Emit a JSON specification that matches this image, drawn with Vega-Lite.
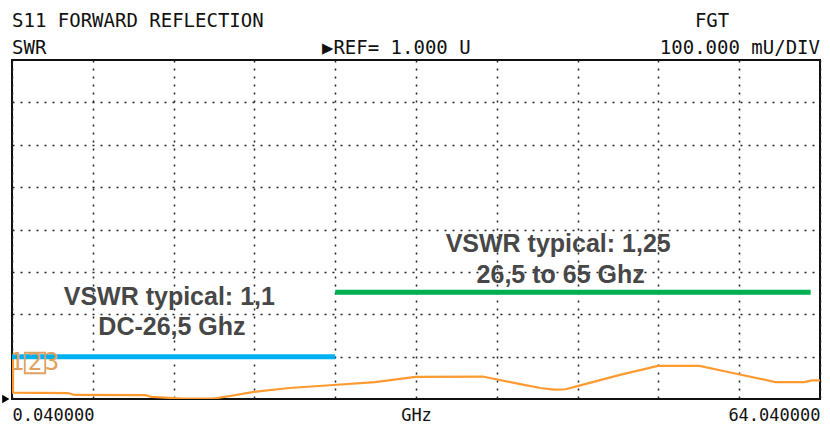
{
  "$schema": "https://vega.github.io/schema/vega-lite/v6.json",
  "width": 808,
  "height": 339,
  "autosize": {"type": "none"},
  "padding": {"left": 12, "top": 60, "right": 10, "bottom": 27},
  "background": "white",
  "config": {"view": {"stroke": "#111", "strokeWidth": 2}},
  "datasets": {
    "trace": [
      {"i": 0, "f": 0.12, "v": 1.104},
      {"i": 1, "f": 0.12, "v": 1.015},
      {"i": 2, "f": 4.48, "v": 1.014},
      {"i": 3, "f": 5.0, "v": 1.0095},
      {"i": 4, "f": 10.6, "v": 1.009},
      {"i": 5, "f": 11.1, "v": 1.005},
      {"i": 6, "f": 13.5, "v": 1.001},
      {"i": 7, "f": 16.0, "v": 1.001},
      {"i": 8, "f": 17.3, "v": 1.007},
      {"i": 9, "f": 19.2, "v": 1.017},
      {"i": 10, "f": 22.0, "v": 1.026},
      {"i": 11, "f": 25.5, "v": 1.033},
      {"i": 12, "f": 28.8, "v": 1.04},
      {"i": 13, "f": 32.0, "v": 1.052},
      {"i": 14, "f": 37.3, "v": 1.053},
      {"i": 15, "f": 38.5, "v": 1.046},
      {"i": 16, "f": 40.3, "v": 1.035},
      {"i": 17, "f": 41.9, "v": 1.026},
      {"i": 18, "f": 43.0, "v": 1.022},
      {"i": 19, "f": 43.9, "v": 1.023},
      {"i": 20, "f": 44.9, "v": 1.031},
      {"i": 21, "f": 48.2, "v": 1.057},
      {"i": 22, "f": 51.2, "v": 1.078},
      {"i": 23, "f": 54.5, "v": 1.078},
      {"i": 24, "f": 57.5, "v": 1.059},
      {"i": 25, "f": 60.5, "v": 1.04},
      {"i": 26, "f": 62.8, "v": 1.04},
      {"i": 27, "f": 63.4, "v": 1.044},
      {"i": 28, "f": 64.04, "v": 1.044}
    ],
    "specs": [
      {"band": "DC-26,5 GHz", "f": 0.04, "f2": 25.64, "v": 1.1},
      {"band": "26,5-65 GHz", "f": 25.64, "f2": 63.3, "v": 1.252}
    ],
    "notes": [
      {"f": 12.5, "v": 1.2217, "text": "VSWR typical: 1,1"},
      {"f": 12.71, "v": 1.151, "text": "DC-26,5 Ghz"},
      {"f": 43.3, "v": 1.3467, "text": "VSWR typical: 1,25"},
      {"f": 43.5, "v": 1.2736, "text": "26,5 to 65 Ghz"}
    ],
    "headLeft": [
      {"f": 0.04, "v": 1.8774, "text": "S11 FORWARD REFLECTION"},
      {"f": 0.04, "v": 1.8137, "text": "SWR"},
      {"f": 24.59, "v": 1.8137, "text": "▶REF= 1.000 U"},
      {"f": 54.13, "v": 1.8774, "text": "FGT"}
    ],
    "headRight": [
      {"f": 64.04, "v": 1.8137, "text": "100.000 mU/DIV"}
    ],
    "marker": [
      {"f": 0.43, "v": 1.085, "text": "1"},
      {"f": 1.86, "v": 1.085, "text": "2"},
      {"f": 3.21, "v": 1.085, "text": "3"}
    ],
    "box": [{"f": 1.86, "v": 1.085}],
    "ref": [{"f": -0.45, "v": 1.0}]
  },
  "layer": [
    {
      "data": {"name": "trace"},
      "mark": {"type": "line", "color": "#ff9a30", "strokeWidth": 2.2, "clip": true},
      "encoding": {
        "x": {
          "field": "f", "type": "quantitative",
          "scale": {"domain": [0.04, 64.04], "nice": false, "zero": false},
          "axis": {
            "title": null,
            "values": [0.04, 6.44, 12.84, 19.24, 25.64, 32.04, 38.44, 44.84, 51.24, 57.64, 64.04],
            "grid": true, "gridColor": "#222", "gridDash": [2, 6], "gridWidth": 1.5,
            "domain": false, "ticks": false,
            "labelExpr": "datum.value == 0.04 ? '0.040000' : (datum.value == 64.04 ? '64.040000' : (datum.value == 32.04 ? 'GHz' : ''))",
            "labelFlush": true, "labelOverlap": false,
            "labelFont": "DejaVu Sans Mono", "labelFontSize": 17, "labelColor": "#111",
            "labelPadding": 8, "labelBaseline": "top"
          }
        },
        "y": {
          "field": "v", "type": "quantitative",
          "scale": {"domain": [1, 1.8], "nice": false, "zero": false},
          "axis": {
            "title": null,
            "values": [1.1, 1.2, 1.3, 1.4, 1.5, 1.6, 1.7],
            "grid": true, "gridColor": "#222", "gridDash": [2, 6], "gridWidth": 1.5,
            "domain": false, "ticks": false, "labels": false
          }
        },
        "order": {"field": "i", "type": "quantitative"}
      }
    },
    {
      "data": {"name": "specs"},
      "mark": {"type": "rule", "strokeWidth": 5},
      "encoding": {
        "x": {"field": "f", "type": "quantitative"},
        "x2": {"field": "f2"},
        "y": {"field": "v", "type": "quantitative"},
        "color": {
          "field": "band", "type": "nominal",
          "scale": {"domain": ["DC-26,5 GHz", "26,5-65 GHz"], "range": ["#00b0f0", "#00b050"]},
          "legend": null
        }
      }
    },
    {
      "data": {"name": "notes"},
      "mark": {"type": "text", "font": "Liberation Sans", "fontWeight": "bold", "fontSize": 25, "color": "#474747", "align": "center", "baseline": "alphabetic"},
      "encoding": {
        "x": {"field": "f", "type": "quantitative"},
        "y": {"field": "v", "type": "quantitative"},
        "text": {"field": "text"}
      }
    },
    {
      "data": {"name": "headLeft"},
      "mark": {"type": "text", "font": "DejaVu Sans Mono", "fontSize": 19, "color": "#111", "align": "left", "baseline": "alphabetic"},
      "encoding": {
        "x": {"field": "f", "type": "quantitative"},
        "y": {"field": "v", "type": "quantitative"},
        "text": {"field": "text"}
      }
    },
    {
      "data": {"name": "headRight"},
      "mark": {"type": "text", "font": "DejaVu Sans Mono", "fontSize": 19, "color": "#111", "align": "right", "baseline": "alphabetic"},
      "encoding": {
        "x": {"field": "f", "type": "quantitative"},
        "y": {"field": "v", "type": "quantitative"},
        "text": {"field": "text"}
      }
    },
    {
      "data": {"name": "marker"},
      "mark": {"type": "text", "font": "DejaVu Sans Mono", "fontSize": 24, "color": "#e0a060", "align": "center", "baseline": "middle"},
      "encoding": {
        "x": {"field": "f", "type": "quantitative"},
        "y": {"field": "v", "type": "quantitative"},
        "text": {"field": "text"}
      }
    },
    {
      "data": {"name": "box"},
      "mark": {"type": "point", "shape": "square", "size": 420, "filled": false, "color": "#e0a060", "strokeWidth": 1.8, "opacity": 1},
      "encoding": {
        "x": {"field": "f", "type": "quantitative"},
        "y": {"field": "v", "type": "quantitative"}
      }
    },
    {
      "data": {"name": "ref"},
      "mark": {"type": "point", "shape": "triangle-right", "size": 70, "filled": true, "color": "#000", "opacity": 1},
      "encoding": {
        "x": {"field": "f", "type": "quantitative"},
        "y": {"field": "v", "type": "quantitative"}
      }
    }
  ]
}
